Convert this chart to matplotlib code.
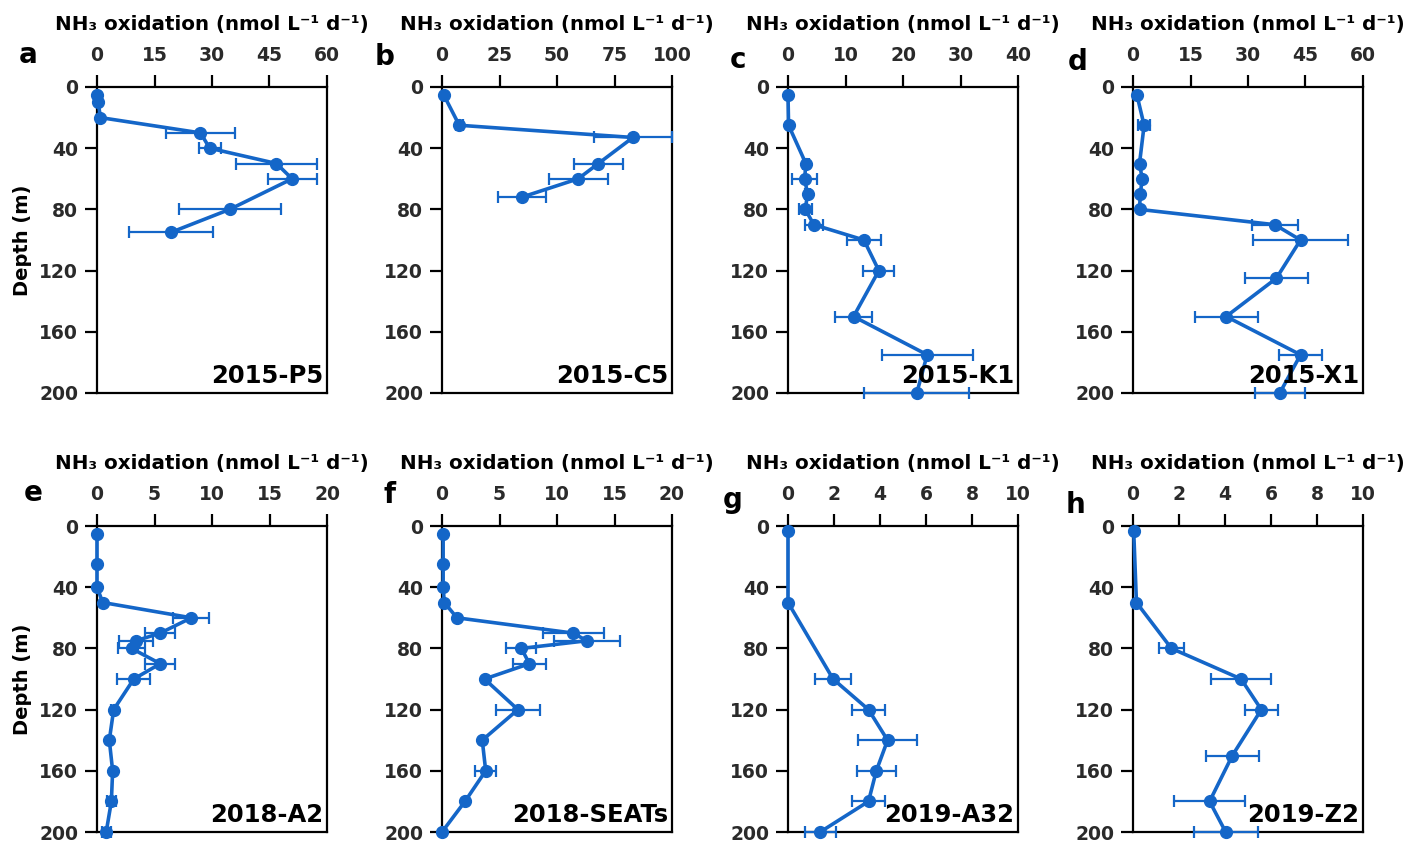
import numpy as np
import matplotlib
matplotlib.use("Agg")
import matplotlib.pyplot as plt

plt.rcParams['font.family'] = ['DejaVu Sans']
plt.rcParams['font.weight'] = 'bold'

# depth (m), NH3 oxidation rate and its error for each station
p5_depth = [5, 10, 20, 30, 40, 50, 60, 80, 95]
p5_rate = [0.1, 0.3, 0.9, 27.0, 29.4, 46.8, 50.9, 34.6, 19.3]
p5_err = [0, 0, 0, 9.0, 2.9, 10.6, 6.4, 13.3, 11.0]

c5_depth = [5, 25, 33, 50, 60, 72]
c5_rate = [0.7, 7.5, 83.0, 68.0, 59.2, 34.7]
c5_err = [0, 1.5, 17.0, 10.5, 12.8, 10.4]

k1_depth = [5, 25, 50, 60, 70, 80, 90, 100, 120, 150, 175, 200]
k1_rate = [0.0, 0.1, 3.1, 2.9, 3.4, 3.0, 4.5, 13.2, 15.8, 11.4, 24.2, 22.4]
k1_err = [0, 0, 0.5, 2.2, 0.5, 1.1, 1.5, 2.9, 2.7, 3.2, 7.9, 9.1]

x1_depth = [5, 25, 50, 60, 70, 80, 90, 100, 125, 150, 175, 200]
x1_rate = [1.0, 2.9, 1.7, 2.4, 1.9, 1.7, 37.0, 43.7, 37.4, 24.3, 43.7, 38.3]
x1_err = [0, 1.6, 0, 0, 0, 0, 6.0, 12.3, 8.3, 8.2, 5.7, 6.5]

a2_depth = [5, 25, 40, 50, 60, 70, 75, 80, 90, 100, 120, 140, 160, 180, 200]
a2_rate = [0.0, 0.0, 0.0, 0.5, 8.2, 5.5, 3.4, 3.0, 5.5, 3.2, 1.45, 1.07, 1.36, 1.25, 0.8]
a2_err = [0, 0, 0, 0, 1.55, 1.3, 1.45, 1.2, 1.3, 1.45, 0.2, 0, 0, 0.4, 0.4]

seats_depth = [5, 25, 40, 50, 60, 70, 75, 80, 90, 100, 120, 140, 160, 180, 200]
seats_rate = [0.1, 0.1, 0.1, 0.2, 1.3, 11.4, 12.6, 6.9, 7.6, 3.7, 6.6, 3.5, 3.8, 2.0, 0.0]
seats_err = [0, 0, 0, 0, 0, 2.65, 2.85, 1.3, 1.4, 0, 1.9, 0, 0.9, 0, 0]

a32_depth = [3, 50, 100, 120, 140, 160, 180, 200]
a32_rate = [0.0, 0.0, 1.96, 3.5, 4.33, 3.84, 3.5, 1.4]
a32_err = [0, 0, 0.8, 0.7, 1.27, 0.85, 0.7, 0.68]

z2_depth = [3, 50, 80, 100, 120, 150, 180, 200]
z2_rate = [0.03, 0.15, 1.67, 4.7, 5.58, 4.32, 3.33, 4.03]
z2_err = [0, 0, 0.55, 1.3, 0.72, 1.16, 1.56, 1.39]

stations = ['2015-P5', '2015-C5', '2015-K1', '2015-X1',
            '2018-A2', '2018-SEATs', '2019-A32', '2019-Z2']
letters = ['a', 'b', 'c', 'd', 'e', 'f', 'g', 'h']
xmax = [60, 100, 40, 60, 20, 20, 10, 10]
xstep = [15, 25, 10, 15, 5, 5, 2, 2]

profiles = [(p5_depth, p5_rate, p5_err), (c5_depth, c5_rate, c5_err),
            (k1_depth, k1_rate, k1_err), (x1_depth, x1_rate, x1_err),
            (a2_depth, a2_rate, a2_err), (seats_depth, seats_rate, seats_err),
            (a32_depth, a32_rate, a32_err), (z2_depth, z2_rate, z2_err)]

blue = '#1466c8'
W, H = 1403, 843
fig = plt.figure(figsize=(W / 100, H / 100), dpi=100)

# panel boxes and letter positions in pixels
lefts = [97, 442, 788, 1133]
tops = [87, 526]
aw, ah = 230, 306
letter_xy = [(28, 55), (385, 57), (738, 60), (1078, 62),
             (33, 493), (390, 495), (733, 500), (1075, 505)]

for i, (depth, rate, err) in enumerate(profiles):
    row, col = divmod(i, 4)
    l, t = lefts[col], tops[row]
    ax = fig.add_axes([l / W, 1 - (t + ah) / H, aw / W, ah / H])
    ax.errorbar(rate, depth, xerr=err, color=blue, lw=2.6, marker='o', ms=8.5,
                elinewidth=1.6, capsize=4, capthick=1.6, clip_on=False,
                zorder=3)
    ax.set_xlim(0, xmax[i])
    ax.set_ylim(200, 0)
    ax.set_xticks(np.arange(0, xmax[i] + 1, xstep[i]))
    ax.set_yticks([0, 40, 80, 120, 160, 200])
    ax.xaxis.tick_top()
    ax.tick_params(direction='out', length=8.5, width=1.6, labelsize=13.5,
                   labelcolor='#2a2a2a')
    ax.tick_params(axis='x', pad=7)
    ax.tick_params(axis='y', pad=5)
    for lab in ax.get_xticklabels() + ax.get_yticklabels():
        lab.set_fontweight('bold')
    for s in ax.spines.values():
        s.set_linewidth(1.6)
    ax.set_xlabel('NH\u2083 oxidation (nmol L\u207b\u00b9 d\u207b\u00b9)',
                  fontsize=14.3, fontweight='bold', labelpad=12)
    ax.xaxis.set_label_position('top')
    if col == 0:
        ax.set_ylabel('Depth (m)', fontsize=14, fontweight='bold', labelpad=5)
    ax.text(0.985, 0.055, stations[i], transform=ax.transAxes, ha='right',
            va='center', fontsize=17.5, fontweight='bold', color='black',
            zorder=4)
    lx, ly = letter_xy[i]
    fig.text(lx / W, 1 - ly / H, letters[i], ha='center', va='center',
             fontsize=20, fontweight='bold', color='black')

fig.savefig('out.png', dpi=100)
